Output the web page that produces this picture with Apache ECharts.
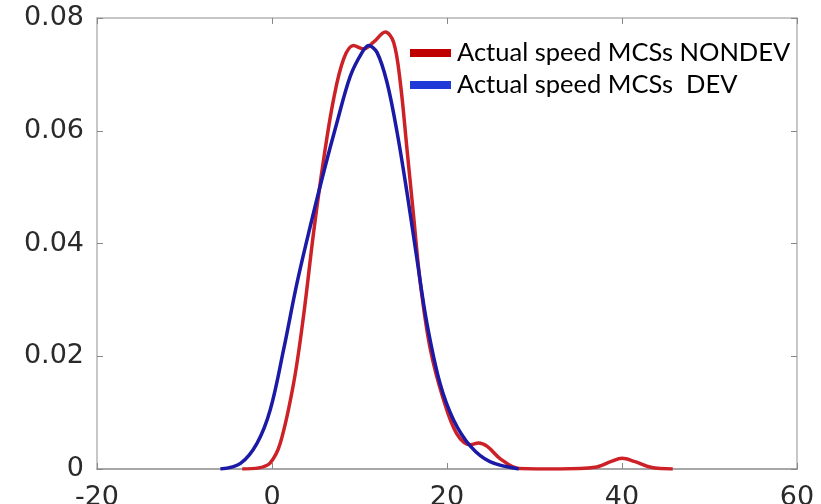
<!DOCTYPE html>
<html>
<head>
<meta charset="utf-8">
<script src="https://cdn.jsdelivr.net/npm/echarts@6/dist/echarts.min.js"></script>
<style>
  html, body { margin: 0; padding: 0; background: #fff; }
  #chart { width: 821px; height: 504px; }
</style>
</head>
<body>
<div id="chart"></div>
<script>
// speed (x) / density (y)
const nondevX = [-3.4, -1.5, -0.2, 0.95, 2.47, 3.6, 4.75, 5.9, 7.04, 8.18, 9.3, 10.47, 11.6, 12.95, 13.9, 14.66, 15.43, 16.18, 16.95, 18.1, 19.6, 21.1, 22.7, 23.6, 24.6, 26.1, 28.2, 33, 36.9, 38.7, 40, 41.5, 43.3, 45.8]
const nondevY = [0, 0.0002, 0.0011, 0.0046, 0.0152, 0.0271, 0.0419, 0.0549, 0.0656, 0.0727, 0.0751, 0.0745, 0.0757, 0.0775, 0.0757, 0.0686, 0.0567, 0.0449, 0.033, 0.0212, 0.0123, 0.0063, 0.0043, 0.0046, 0.0040, 0.0018, 0.0001, 0, 0.0003, 0.0013, 0.0019, 0.0013, 0.0003, 0]
const devX = [-5.9, -3.6, -1.7, -0.2, 1.33, 2.86, 4.38, 5.9, 7.43, 8.95, 10.3, 11.04, 12.0, 13.14, 14.3, 15.43, 16.57, 17.7, 19.2, 20.75, 22.7, 24.9, 28.2]
const devY = [0, 0.001, 0.0046, 0.0105, 0.0212, 0.033, 0.0431, 0.0526, 0.0615, 0.0697, 0.0739, 0.0751, 0.0739, 0.0686, 0.0597, 0.049, 0.0372, 0.0259, 0.0152, 0.0087, 0.004, 0.0013, 0]

const xTicks = [-20, 0, 20, 40, 60]
const yTicks = [0, 0.02, 0.04, 0.06, 0.08]

const names = ['Actual speed MCSs NONDEV', 'Actual speed MCSs  DEV']

const chart = echarts.init(document.getElementById('chart'))

const boxLine = { show: true, onZero: false, lineStyle: { color: '#b4b4b4', width: 1.5 } }
const inTick = { show: true, inside: true, length: 6, lineStyle: { color: '#888' } }

let option = {
  animation: false,
  grid: { left: 97, right: 24, top: 18, bottom: 35, outerBoundsMode: 'none', containLabel: false },
  legend: {
    left: 405,
    top: 35,
    orient: 'vertical',
    itemWidth: 41,
    itemHeight: 8,
    itemGap: 6,
    icon: 'rect',
    textStyle: { fontFamily: 'Lato', fontSize: 25.5, color: '#000', padding: [0, 0, 0, 1] },
    data: [
      { name: names[0], itemStyle: { color: '#c00000' } },
      { name: names[1], itemStyle: { color: '#1f3ad6' } }
    ]
  },
  xAxis: [
    {
      type: 'value',
      min: xTicks[0],
      max: xTicks[xTicks.length - 1],
      interval: 20,
      axisLine: { show: true, onZero: false, lineStyle: { color: '#8a8a8a', width: 1.5 } },
      axisTick: inTick,
      splitLine: { show: false },
      axisLabel: { fontFamily: 'DejaVu Sans', fontSize: 27, color: '#2a2a2a', margin: 15 }
    },
    {
      type: 'value',
      position: 'top',
      min: xTicks[0],
      max: xTicks[xTicks.length - 1],
      interval: 20,
      axisLine: boxLine,
      axisTick: inTick,
      splitLine: { show: false },
      axisLabel: { show: false }
    }
  ],
  yAxis: [
    {
      type: 'value',
      min: yTicks[0],
      max: yTicks[yTicks.length - 1],
      interval: 0.02,
      axisLine: boxLine,
      axisTick: inTick,
      splitLine: { show: false },
      axisLabel: {
        fontFamily: 'DejaVu Sans', fontSize: 27, color: '#2a2a2a', margin: 13,
        formatter: v => v === 0 ? '0' : v.toFixed(2)
      }
    },
    {
      type: 'value',
      position: 'right',
      min: yTicks[0],
      max: yTicks[yTicks.length - 1],
      interval: 0.02,
      axisLine: boxLine,
      axisTick: inTick,
      splitLine: { show: false },
      axisLabel: { show: false }
    }
  ],
  series: [
    {
      name: names[0],
      type: 'line',
      smooth: 0.35,
      showSymbol: false,
      lineStyle: { color: '#cc2127', width: 3.5 },
      itemStyle: { color: '#c00000' },
      data: nondevX.map((x, i) => [x, nondevY[i]]),
      z: 2
    },
    {
      name: names[1],
      type: 'line',
      smooth: 0.35,
      showSymbol: false,
      lineStyle: { color: '#1a1aa6', width: 3.5 },
      itemStyle: { color: '#1f3ad6' },
      data: devX.map((x, i) => [x, devY[i]]),
      z: 3
    }
  ]
}
chart.setOption(option)
</script>
</body>
</html>
